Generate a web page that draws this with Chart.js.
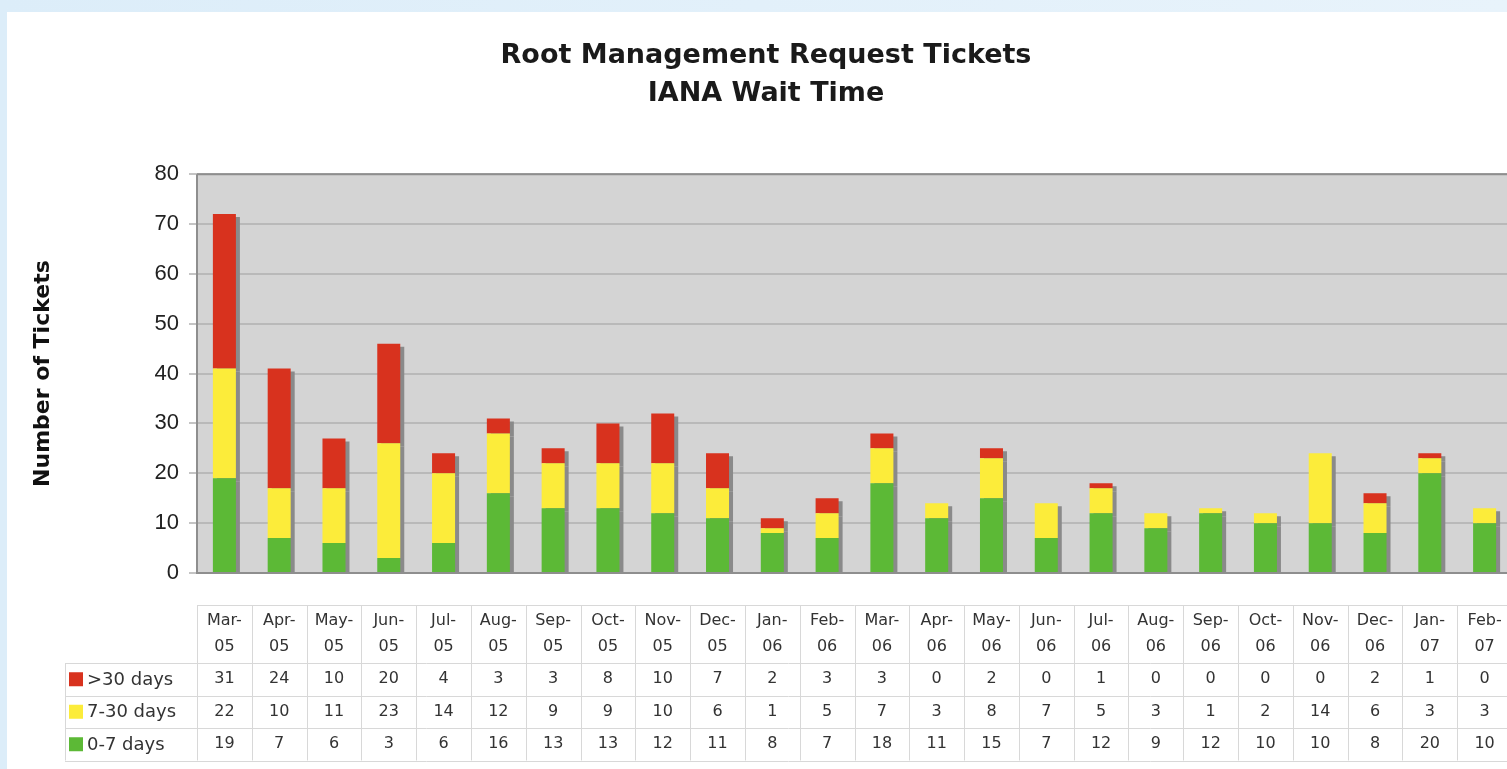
<!DOCTYPE html>
<html>
<head>
<meta charset="utf-8">
<script src="https://cdn.jsdelivr.net/npm/chart.js@4"></script>
<style>
  html, body { margin: 0; padding: 0; overflow: hidden; }
  body { width: 1507px; height: 769px; background: linear-gradient(90deg, #dcedf9, #e8f3fb); position: relative; }
  #panel { position: absolute; left: 7px; top: 12px; right: 0; bottom: 0; background: #fff; }
  #wrap { position: absolute; left: 0; top: 0; width: 1515px; height: 769px; }
</style>
</head>
<body>
<div id="panel"></div>
<div id="wrap"><canvas id="chart__wait"></canvas></div>
<script>
const months = ['Mar-', 'Apr-', 'May-', 'Jun-', 'Jul-', 'Aug-', 'Sep-', 'Oct-', 'Nov-', 'Dec-', 'Jan-', 'Feb-',
                'Mar-', 'Apr-', 'May-', 'Jun-', 'Jul-', 'Aug-', 'Sep-', 'Oct-', 'Nov-', 'Dec-', 'Jan-', 'Feb-'];
const years = ['05', '05', '05', '05', '05', '05', '05', '05', '05', '05', '06', '06',
               '06', '06', '06', '06', '06', '06', '06', '06', '06', '06', '07', '07'];
const over30 = [31, 24, 10, 20, 4, 3, 3, 8, 10, 7, 2, 3, 3, 0, 2, 0, 1, 0, 0, 0, 0, 2, 1, 0];
const days7to30 = [22, 10, 11, 23, 14, 12, 9, 9, 10, 6, 1, 5, 7, 3, 8, 7, 5, 3, 1, 2, 14, 6, 3, 3];
const days0to7 = [19, 7, 6, 3, 6, 16, 13, 13, 12, 11, 8, 7, 18, 11, 15, 7, 12, 9, 12, 10, 10, 8, 20, 10];
const yTicks = [0, 10, 20, 30, 40, 50, 60, 70, 80];

const FONT = '"DejaVu Sans", Verdana, sans-serif';

// grey plot background
const plotBg = {
    id: 'plotBg',
    beforeDraw(chart) {
        const { ctx, chartArea: a } = chart;
        ctx.save();
        ctx.fillStyle = '#d4d4d4';
        ctx.fillRect(a.left, a.top, a.right - a.left, a.bottom - a.top);
        ctx.restore();
    },
    afterDraw(chart) {
        const { ctx, chartArea: a } = chart;
        ctx.save();
        ctx.strokeStyle = '#8e8e8e';
        ctx.lineWidth = 2;
        ctx.beginPath();
        ctx.moveTo(a.left, a.top);
        ctx.lineTo(a.right, a.top);
        ctx.moveTo(a.left, a.top);
        ctx.lineTo(a.left, a.bottom);
        ctx.lineTo(a.right, a.bottom);
        ctx.stroke();
        ctx.restore();
    }
};

// drop shadow to the right of the bars
const barShadow = {
    id: 'barShadow',
    beforeDatasetsDraw(chart) {
        const ctx = chart.ctx;
        ctx.save();
        ctx.shadowColor = '#8a8a8a';
        ctx.shadowOffsetX = 4;
        ctx.shadowOffsetY = 3;
        ctx.shadowBlur = 0;
    },
    afterDatasetsDraw(chart) {
        chart.ctx.restore();
    }
};

// data table under the plot
const dataTable = {
    id: 'dataTable',
    afterDraw(chart) {
        const { ctx, chartArea: a } = chart;
        const x = chart.scales.x;
        const w = x.getPixelForValue(1) - x.getPixelForValue(0);
        const headTop = a.bottom + 32;
        const headBottom = a.bottom + 90;
        const rowH = 32.5;
        const legendLeft = 65;
        const rows = [chart.data.datasets[2], chart.data.datasets[1], chart.data.datasets[0]];
        const tableRight = x.getPixelForValue(months.length - 1) + w / 2;

        ctx.save();
        ctx.strokeStyle = '#d8d8d8';
        ctx.lineWidth = 1;
        ctx.beginPath();
        ctx.moveTo(a.left, headTop + 0.5);
        ctx.lineTo(tableRight, headTop + 0.5);
        for (let r = 0; r <= rows.length; r++) {
            const y = Math.round(headBottom + r * rowH) + 0.5;
            ctx.moveTo(legendLeft, y);
            ctx.lineTo(tableRight, y);
        }
        ctx.moveTo(legendLeft + 0.5, headBottom);
        ctx.lineTo(legendLeft + 0.5, headBottom + rows.length * rowH);
        for (let i = 0; i <= months.length; i++) {
            const cx = Math.round(x.getPixelForValue(i) - w / 2) + 0.5;
            ctx.moveTo(cx, headTop);
            ctx.lineTo(cx, headBottom + rows.length * rowH);
        }
        ctx.stroke();

        ctx.textAlign = 'center';
        ctx.textBaseline = 'middle';
        ctx.fillStyle = '#333';
        ctx.font = '16px ' + FONT;
        months.forEach((m, i) => {
            const cx = x.getPixelForValue(i);
            ctx.fillText(m, cx, headTop + 16);
            ctx.fillText(years[i], cx, headTop + 42);
        });

        rows.forEach((ds, r) => {
            const cy = headBottom + r * rowH + rowH / 2;
            ctx.font = '16px ' + FONT;
            ds.data.forEach((v, i) => {
                ctx.fillText(String(v), x.getPixelForValue(i), cy);
            });
            ctx.fillStyle = ds.backgroundColor;
            ctx.fillRect(legendLeft + 4, cy - 7, 14, 14);
            ctx.fillStyle = '#333';
            ctx.textAlign = 'left';
            ctx.font = '18px ' + FONT;
            ctx.fillText(ds.label, legendLeft + 22, cy + 1);
            ctx.textAlign = 'center';
        });
        ctx.restore();
    }
};

new Chart(document.getElementById('chart__wait'), {
    type: 'bar',
    data: {
        labels: months.map((m, i) => m + years[i]),
        datasets: [
            { label: '0-7 days', data: days0to7, backgroundColor: '#5cb936' },
            { label: '7-30 days', data: days7to30, backgroundColor: '#fcec3a' },
            { label: '>30 days', data: over30, backgroundColor: '#d8321e' }
        ]
    },
    options: {
        responsive: true,
        maintainAspectRatio: false,
        animation: false,
        layout: { padding: { left: 20, right: 3, top: 0, bottom: 196 } },
        datasets: { bar: { barPercentage: 0.42, categoryPercentage: 1 } },
        plugins: {
            legend: { display: false },
            tooltip: { enabled: false },
            title: {
                display: true,
                text: ['Root Management Request Tickets', 'IANA Wait Time'],
                color: '#1a1a1a',
                font: { family: FONT, size: 27, weight: 'bold', lineHeight: 1.41 },
                padding: { top: 37, bottom: 61 }
            }
        },
        scales: {
            x: { stacked: true, display: false },
            y: {
                stacked: true,
                min: 0,
                max: 80,
                afterBuildTicks(scale) { scale.ticks = yTicks.map(v => ({ value: v })); },
                afterFit(scale) { scale.width = 177; },
                ticks: { color: '#222', padding: 10, font: { family: '"Liberation Sans", Arial, sans-serif', size: 22 } },
                grid: { color: '#b9b9b9', lineWidth: 2, tickLength: 8, tickColor: '#c4c4c4' },
                border: { display: false },
                title: {
                    display: true,
                    text: 'Number of Tickets',
                    color: '#111',
                    font: { family: FONT, size: 22, weight: 'bold' },
                    padding: { top: 10, bottom: 0 }
                }
            }
        }
    },
    plugins: [plotBg, barShadow, dataTable]
});
</script>
</body>
</html>
